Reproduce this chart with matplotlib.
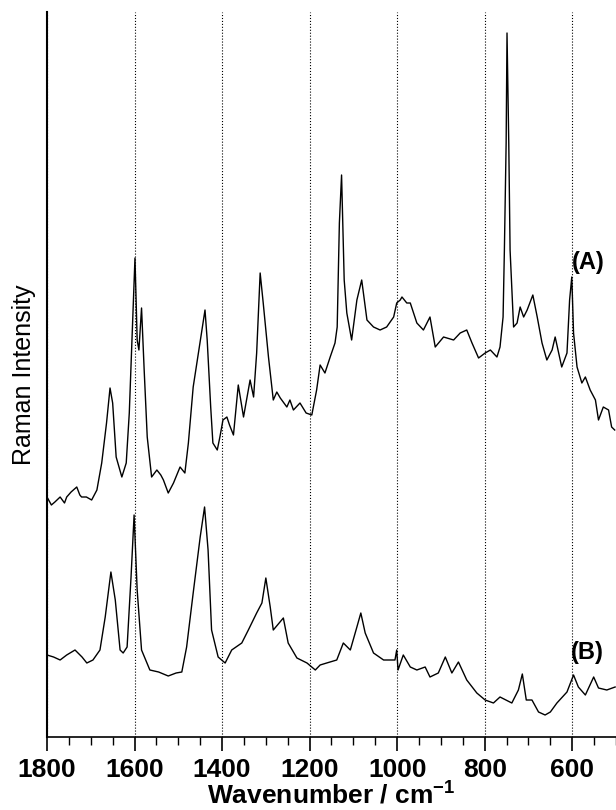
import numpy as np
import matplotlib
matplotlib.use("Agg")
import matplotlib.pyplot as plt
from matplotlib.ticker import MultipleLocator

plt.rcParams['font.family'] = ['Liberation Sans', 'DejaVu Sans']
plt.rcParams['mathtext.fontset'] = 'custom'
plt.rcParams['mathtext.bf'] = 'Liberation Sans:bold'
plt.rcParams['mathtext.rm'] = 'Liberation Sans:bold'
plt.rcParams['mathtext.default'] = 'bf'

# spectrum (A) (arbitrary intensity units)
wn_a = [1800, 1790, 1782, 1770, 1760, 1755, 1745, 1732, 1725, 1721, 1710, 1698,
        1686, 1675, 1664, 1656, 1650, 1642, 1629, 1619, 1612, 1604, 1599, 1594,
        1590, 1584, 1578, 1571, 1561, 1549, 1540, 1534, 1523, 1511, 1496, 1485,
        1477, 1466, 1454, 1445, 1439, 1434, 1426, 1421, 1411, 1405, 1398, 1389,
        1383, 1374, 1363, 1351, 1336, 1328, 1321, 1313, 1306, 1294, 1283, 1275,
        1267, 1252, 1245, 1237, 1222, 1208, 1195, 1184, 1176, 1165, 1153, 1142,
        1137, 1132, 1127, 1121, 1115, 1104, 1092, 1081, 1069, 1054, 1039, 1024,
        1008, 1001, 993, 989, 978, 970, 955, 940, 925, 913, 894, 871, 856, 841,
        829, 814, 799, 787, 772, 765, 758, 755, 751, 749, 745, 742, 734, 726,
        719, 711, 703, 690, 680, 669, 658, 646, 639, 631, 624, 612, 606, 601,
        597, 589, 578, 570, 559, 547, 540, 529, 517, 510, 503]
int_a = [240, 232, 235, 240, 234, 240, 245, 250, 242, 240, 240, 237,
         247, 274, 314, 349, 334, 280, 260, 274, 324, 420, 479, 397,
         387, 429, 367, 300, 260, 267, 262, 257, 244, 254, 270, 264,
         294, 350, 384, 410, 427, 397, 330, 294, 287, 300, 317, 320,
         312, 302, 352, 320, 357, 340, 384, 464, 434, 380, 337, 345,
         339, 330, 337, 327, 334, 324, 322, 347, 372, 364, 380, 394,
         410, 514, 562, 457, 424, 397, 437, 457, 417, 410, 407, 410,
         420, 434, 437, 440, 434, 434, 414, 407, 420, 390, 400, 397, 404, 407,
         394, 379, 384, 387, 380, 390, 420, 487, 594, 704, 594, 487, 410, 414,
         430, 420, 427, 442, 420, 394, 377, 387, 400, 384, 370, 384, 437, 460,
         404, 370, 354, 360, 347, 337, 317, 330, 327, 310, 307]

# spectrum (B)
wn_b = [1800, 1785, 1770, 1755, 1736, 1720, 1709, 1695, 1679, 1667, 1654, 1644,
        1633, 1626, 1617, 1608, 1601, 1594, 1584, 1565, 1545, 1523, 1505, 1492,
        1481, 1466, 1450, 1440, 1432, 1424, 1409, 1393, 1378, 1355, 1340, 1321,
        1309, 1300, 1290, 1283, 1260, 1249, 1229, 1206, 1187, 1176, 1161, 1138,
        1123, 1107, 1092, 1083, 1073, 1054, 1031, 1005, 1001, 998, 986, 970,
        955, 936, 925, 906, 890, 875, 860, 841, 818, 799, 780, 765, 738, 723,
        714, 705, 692, 677, 662, 650, 635, 612, 597, 586, 570, 551, 540, 521, 502]
int_b = [82, 80, 77, 82, 87, 80, 74, 77, 87, 120, 165, 137,
         87, 84, 90, 160, 222, 147, 87, 67, 65, 61, 64, 65,
         90, 144, 200, 230, 187, 107, 80, 74, 87, 94, 107, 124,
         134, 159, 130, 107, 119, 94, 79, 74, 67, 72, 74, 77,
         94, 87, 110, 124, 104, 84, 77, 77, 87, 67, 82, 70,
         67, 70, 60, 64, 80, 64, 75, 57, 44, 37, 34, 40, 34, 47,
         63, 37, 37, 25, 22, 25, 34, 45, 62, 50, 42, 60, 49, 47, 50]

labels = ["(A)", "(B)"]

fig = plt.figure(figsize=(6.16, 8.10), dpi=100)
ax = fig.add_axes([47 / 616, 73 / 810, 569 / 616, 725 / 810])

ax.plot(wn_a, int_a, color="black", lw=1.0)
ax.plot(wn_b, int_b, color="black", lw=1.0)

ax.text(601, 474, labels[0], fontsize=17, fontweight="bold", ha="left", va="center")
ax.text(603, 85, labels[1], fontsize=17, fontweight="bold", ha="left", va="center")

ax.set_xlim(1800, 500)
ax.set_ylim(0, 725)
ax.xaxis.set_major_locator(MultipleLocator(200))
ax.xaxis.set_minor_locator(MultipleLocator(50))
ax.grid(axis="x", which="major", linestyle=":", color="black", lw=0.8)
ax.set_yticks([])

for s in ["top", "right"]:
    ax.spines[s].set_visible(False)
ax.spines["left"].set_linewidth(1.5)
ax.spines["bottom"].set_linewidth(1.2)

ax.tick_params(axis="x", which="major", direction="out", length=10, width=1.2, pad=5)
ax.tick_params(axis="x", which="minor", direction="out", length=5.5, width=1.0)
for lab in ax.get_xticklabels():
    lab.set_fontweight("bold")
    lab.set_fontsize(19)

ax.set_xlabel(r"Wavenumber / cm$^{-1}$", fontsize=19, fontweight="bold", labelpad=0)
ax.set_ylabel("Raman Intensity", fontsize=18, labelpad=8)

fig.savefig("out.png", dpi=100)
